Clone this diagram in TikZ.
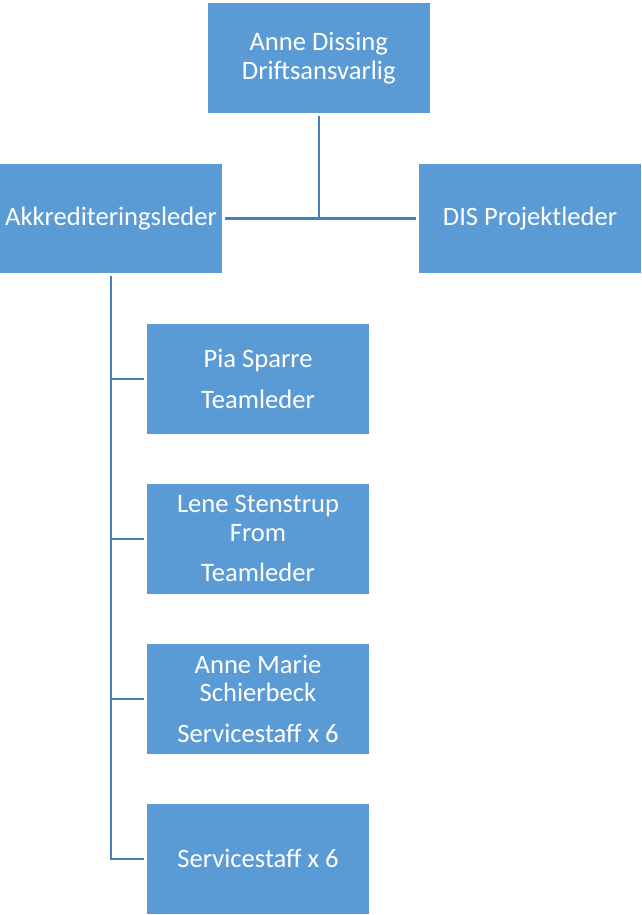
\documentclass[tikz,border=0pt]{standalone}
\usepackage{fontspec}
\setmainfont{Carlito}
\definecolor{boxblue}{HTML}{5B9BD5}
\definecolor{lineblue}{HTML}{4A7EBB}
\begin{document}
\begin{tikzpicture}[x=1pt,y=-1pt,
  orgbox/.style={rectangle, fill=boxblue, draw=none, text=white, align=center,
    minimum width=222pt, minimum height=109.5pt, inner sep=0pt,
    font=\fontsize{26.6}{28.5}\selectfont},
  conn/.style={draw=lineblue, line width=2.2pt}]
\useasboundingbox (0,0) rectangle (641,915);
\node[orgbox, minimum width=222.5pt] (top) at (318.75,58.25) {Anne Dissing\\Driftsansvarlig};
\node[orgbox] (left) at (111,218.5) {Akkrediteringsleder};
\node[orgbox] (right) at (530,218.5) {DIS Projektleder};
\node[orgbox] (c1) at (258,378.75) {Pia Sparre\\[12pt]Teamleder};
\node[orgbox] (c2) at (258,538.75) {Lene Stenstrup\\From\\[12pt]Teamleder};
\node[orgbox] (c3) at (258,698.75) {Anne Marie\\Schierbeck\\[12pt]Servicestaff x 6};
\node[orgbox] (c4) at (258,858.75) {Servicestaff x 6};
\draw[conn, shorten <=3pt] (top.south) -- (top.south |- left.east);
\draw[conn, shorten <=3pt, shorten >=3pt] (left.east) -- (right.west);
\draw[conn, shorten <=3pt, shorten >=3pt] (left.south) -- (left.south |- c4.west) -- (c4.west);
\draw[conn, shorten >=3pt] (left.south |- c1.west) -- (c1.west);
\draw[conn, shorten >=3pt] (left.south |- c2.west) -- (c2.west);
\draw[conn, shorten >=3pt] (left.south |- c3.west) -- (c3.west);
\end{tikzpicture}
\end{document}
